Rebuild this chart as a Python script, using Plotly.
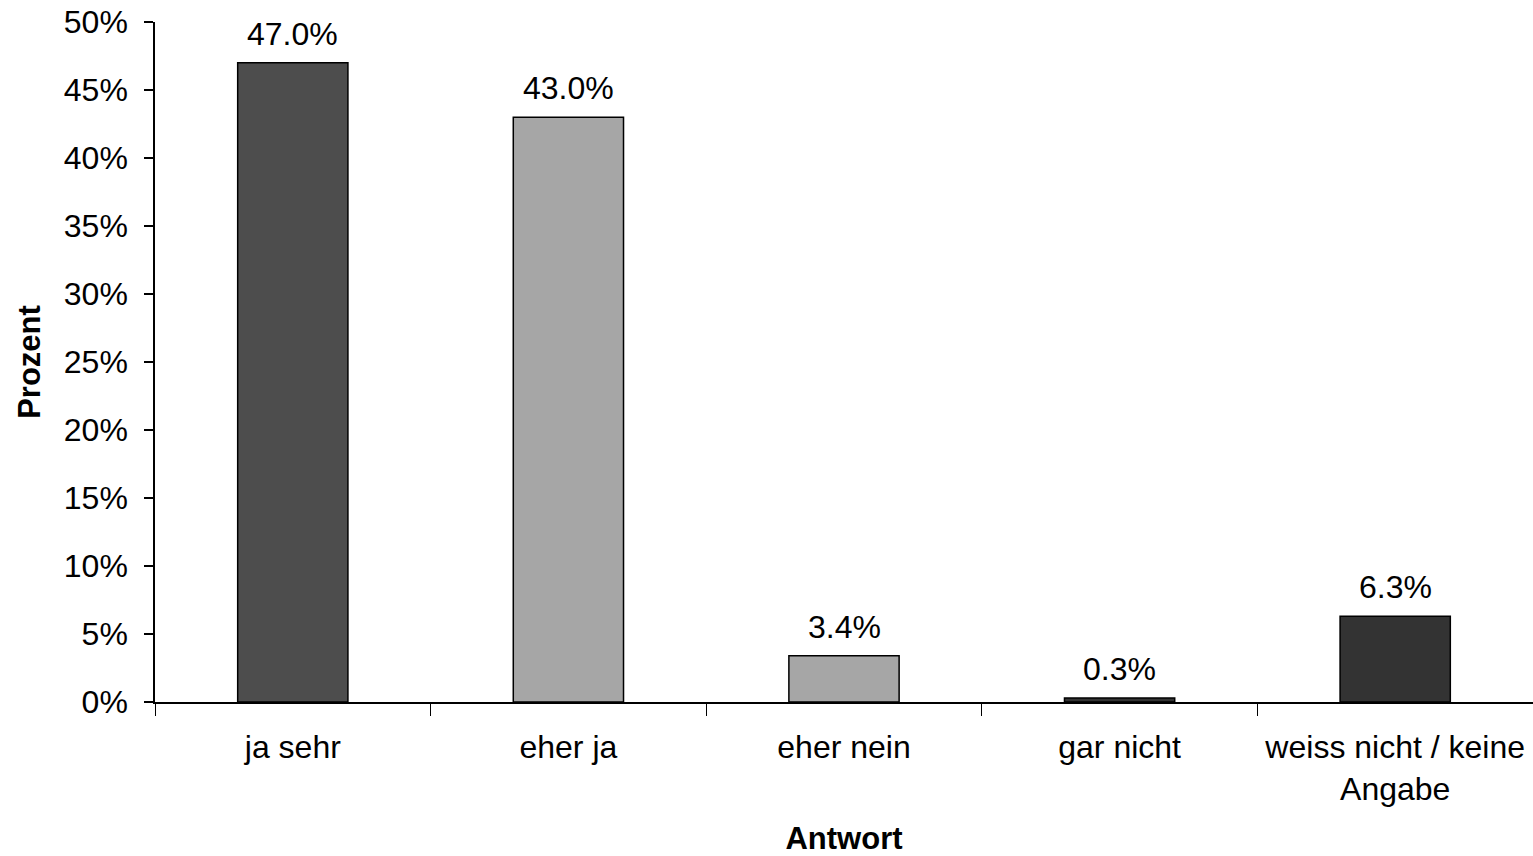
import plotly.graph_objects as go

categories = ["ja sehr", "eher ja", "eher nein", "gar nicht", "weiss nicht / keine<br>Angabe"]
values = [0.470, 0.430, 0.034, 0.003, 0.063]
labels = ["47.0%", "43.0%", "3.4%", "0.3%", "6.3%"]
colors = ["#4d4d4d", "#a6a6a6", "#a6a6a6", "#333333", "#333333"]

FONT = "Liberation Sans, Arial, sans-serif"

fig = go.Figure()
fig.add_trace(go.Bar(
    x=categories, y=values, width=0.4,
    marker=dict(color=colors, line=dict(color="black", width=1.5)),
    showlegend=False,
))
for c, v, t in zip(categories, values, labels):
    fig.add_annotation(x=c, y=v, text=t, showarrow=False, yanchor="bottom",
                       yshift=9, font=dict(family=FONT, size=32, color="black"))

fig.update_layout(
    width=1533, height=856,
    margin=dict(l=155, r=0, t=22, b=154),
    plot_bgcolor="white", paper_bgcolor="white",
    font=dict(family=FONT, size=32, color="black"),
    bargap=0.6,
)
fig.update_xaxes(
    showline=True, linecolor="black", linewidth=1.5,
    ticks="outside", tickson="boundaries", ticklen=12, tickcolor="black", tickwidth=1,
    ticklabelstandoff=16, automargin=False,
    showgrid=False,
    title=dict(text="<b>Antwort</b>", font=dict(size=31), standoff=31),
)
fig.update_yaxes(
    range=[0, 0.5], dtick=0.05, tickformat=".0%",
    showline=True, linecolor="black", linewidth=1.5,
    ticks="outside", ticklen=9, tickcolor="black", tickwidth=1.5,
    ticklabelstandoff=10, ticklabeloverflow="allow", automargin=False,
    showgrid=False, zeroline=False,
    title=dict(text="<b>Prozent</b>", font=dict(size=31), standoff=14),
)
fig.write_html(
    "out.html",
    config={"displayModeBar": False},
    post_script="document.body.style.margin='0';document.body.style.overflow='hidden';",
)
